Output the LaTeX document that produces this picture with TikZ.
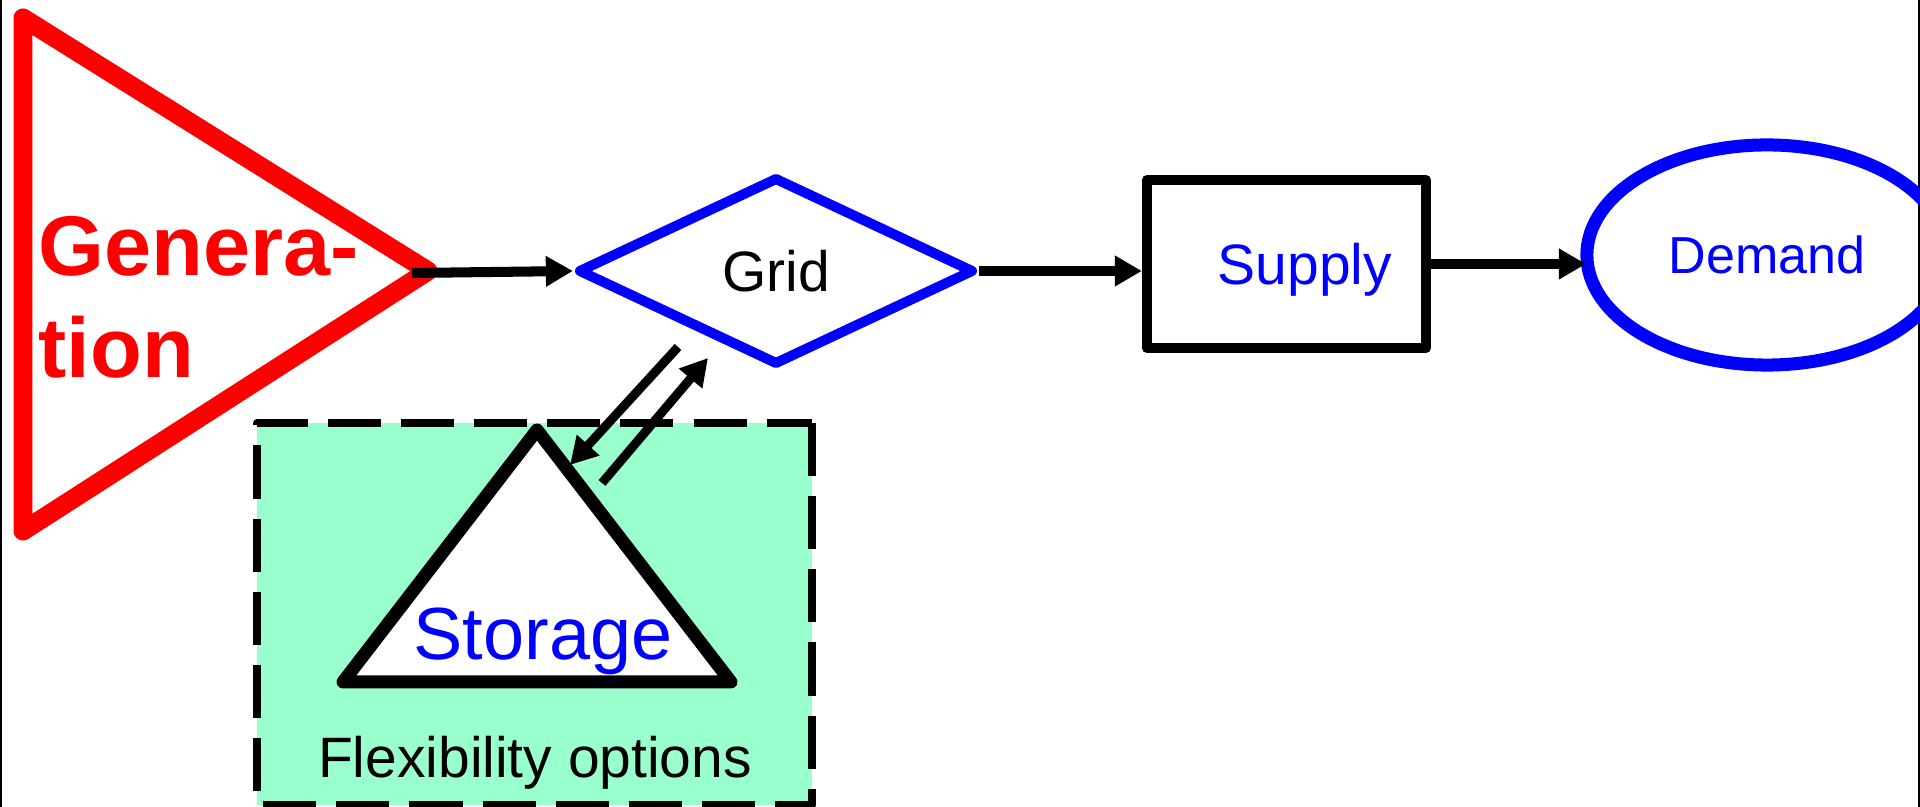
\documentclass[tikz,border=0pt]{standalone}
\usepackage{fontspec}
\setmainfont{Liberation Sans}
\usetikzlibrary{arrows.meta,shapes.geometric}
\definecolor{GenRed}{HTML}{FF0000}
\definecolor{NetBlue}{HTML}{0000FF}
\definecolor{FlexMint}{HTML}{99FFCC}

\begin{document}
\begin{tikzpicture}[x=0.01cm, y=-0.01cm, line join=round,
    flow/.style={-{Triangle[length=0.27cm,width=0.29cm]}, line width=2.85pt},
    plaintext/.style={font=\fontsize{16.2}{19}\selectfont},
    gentext/.style={anchor=base west, inner sep=0, text=GenRed, font=\bfseries\fontsize{24.1}{28}\selectfont}]
  \useasboundingbox (0,0) rectangle (1920,807);
  \draw[line width=0.6pt] (1,0) -- (1,807);
  \draw[line width=0.6pt] (1919,0) -- (1919,807);
  \draw[fill=FlexMint, line width=2.3pt, dash pattern=on 15.1pt off 5.7pt] (812,423) rectangle (257,805);
  % generation
  \coordinate (genTL) at (23,18);
  \coordinate (genBL) at (23,531);
  \coordinate (genTip) at (428,271);
  \coordinate (genOut) at (412,273);
  \draw[GenRed, line width=5.4pt, fill=white] (genTL) -- (genTip) -- (genBL) -- cycle;
  \node[gentext] (genA) at (38,276) {Genera-};
  \node[gentext] (genB) at (38,378) {tion};
  % grid, supply, demand
  \node[diamond, draw=NetBlue, line width=2.85pt, minimum width=3.96cm, minimum height=1.88cm, inner sep=0, shape aspect=2.1, plaintext] (grid) at (776,271) {Grid};
  \node[draw, line width=2.85pt, minimum width=2.79cm, minimum height=1.68cm, inner sep=0, text=NetBlue, text depth=0pt, plaintext] (supply) at (1286.5,264) {\hspace*{0.37cm}Supply};
  \node[ellipse, draw=NetBlue, line width=3.7pt, minimum width=3.6cm, minimum height=2.2cm, inner sep=0, text=NetBlue, font=\fontsize{14.8}{17}\selectfont] (demand) at (1767,255) {Demand};
  \coordinate (demIn) at (1586,264);
  % storage
  \coordinate (stoTop) at (537,430);
  \coordinate (stoLeft) at (343,682);
  \coordinate (stoRight) at (731,682);
  \draw[line width=3.7pt, fill=white] (stoTop) -- (stoRight) -- (stoLeft) -- cycle;
  \node[anchor=base, inner sep=0, text=NetBlue, font=\fontsize{21}{25}\selectfont] (stoLabel) at (543,660) {Storage};
  \node[anchor=base, inner sep=0, plaintext] (flexLabel) at (535,778) {Flexibility options};
  % flows
  \draw[flow] (genOut) -- (grid.west);
  \draw[flow] (grid.east) -- (grid.east -| supply.west);
  \draw[flow] (supply.east |- demIn) -- (demIn);
  \coordinate (chgStart) at (678,347);
  \coordinate (chgEnd) at (570,465);
  \coordinate (disStart) at (602,483);
  \coordinate (disEnd) at (708,358);
  \draw[flow, line width=2.56pt] (chgStart) -- (chgEnd);
  \draw[flow, line width=2.56pt] (disStart) -- (disEnd);
\end{tikzpicture}
\end{document}
